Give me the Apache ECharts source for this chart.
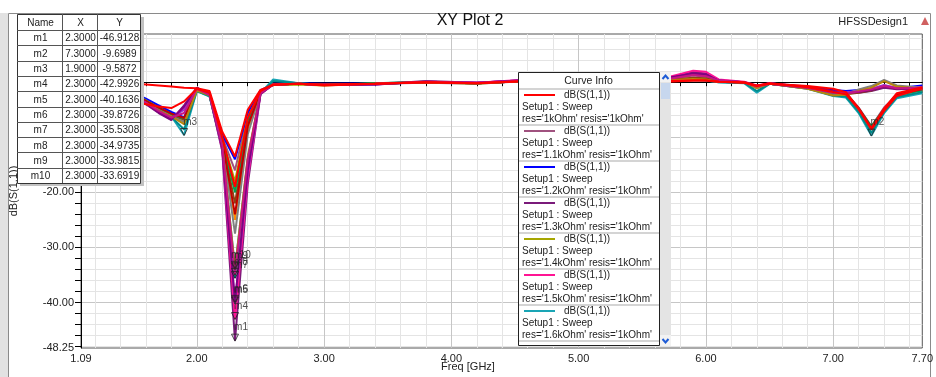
<!DOCTYPE html>
<html>
<head>
<meta charset="utf-8">
<title>XY Plot 2</title>
<script src="https://cdn.jsdelivr.net/npm/echarts/dist/echarts.min.js"></script>
<style>
  html, body { margin: 0; padding: 0; background: #fff; }
  #chart { width: 936px; height: 377px; }
</style>
</head>
<body>
<div id="chart"></div>
<script>
// frequency points (GHz)
var freq = [1.09, 1.3, 1.5, 1.6, 1.7, 1.8, 1.9, 2.0, 2.1, 2.2, 2.3, 2.4, 2.5, 2.6, 2.8, 3.0, 3.4, 3.8, 4.2, 4.6,
  5.0, 5.4, 5.7, 5.9, 6.0, 6.1, 6.3, 6.4, 6.5, 6.8, 7.0, 7.1, 7.2, 7.3, 7.4, 7.5, 7.7];

// sweep names (res), curve colours
var resNames = ['1kOhm', '1.1kOhm', '1.2kOhm', '1.3kOhm', '1.4kOhm', '1.5kOhm', '1.6kOhm', '1.7kOhm', '1.8kOhm',
  '1.9kOhm', '2kOhm', '2.1kOhm', '2.2kOhm', '2.3kOhm', '2.4kOhm', '2.5kOhm', '2.6kOhm', '2.7kOhm'];
var curveColors = ['#ff0000', '#a0527f', '#0000ff', '#7a1a7a', '#a6a600', '#ff1493', '#1aa5b5', '#ff8c00', '#8b4513',
  '#00a050', '#808080', '#c00000', '#9932cc', '#008b8b', '#b8860b', '#800080', '#c71585', '#ff0000'];

// dB(S(1,1)) per curve
var s11_1k   = [-0.3, -0.2, -0.2, -0.4, -0.6, -0.8, -1.0, -1.1, -1.6, -9.0, -13.5, -5.0, -1.4, -0.5, -0.3, -0.4, -0.3, 0.0, -0.2, 0.2, 0.1, 0.2, 0.1, 0.3, 0.3, 0.1, -0.1, -0.6, -0.3, -0.7, -1.2, -1.8, -4.8, -8.4, -4.8, -2.0, -0.9];
var s11_1k1  = [-0.8, -1.2, -2.2, -3.2, -4.4, -5.6, -6.6, -1.4, -2.2, -10.0, -16.0, -6.0, -1.6, -0.4, -0.3, -0.5, -0.3, -0.1, -0.3, 0.2, 0.3, 0.2, 0.6, 1.2, 1.0, 0.2, 0.0, -0.9, -0.2, -0.8, -1.6, -2.0, -4.6, -8.0, -4.6, -2.3, -1.2];
var s11_1k2  = [-0.6, -1.0, -1.9, -3.0, -4.2, -5.4, -6.4, -1.2, -1.9, -9.5, -14.0, -5.5, -1.5, -0.3, -0.2, -0.3, -0.2, 0.0, -0.2, 0.2, 0.3, 0.3, 0.4, 0.6, 0.5, 0.1, -0.1, -0.8, -0.2, -0.9, -1.4, -1.6, -1.4, -1.2, -0.9, -1.1, -0.6];
var s11_1k3  = [-1.5, -2.0, -2.6, -4.0, -5.6, -6.9, -4.2, -1.0, -2.4, -12.5, -46.9128, -18.5, -2.2, -0.4, -0.3, -0.5, -0.4, 0.2, -0.1, 0.4, 0.3, 0.2, 0.8, 1.8, 1.6, 0.4, 0.0, -0.7, -0.3, -1.0, -1.8, -2.0, -1.9, -1.6, -1.0, -1.3, -1.2];
var s11_1k4  = [-0.7, -1.1, -2.0, -3.3, -4.6, -5.8, -6.9, -1.3, -2.0, -10.3, -18.0, -6.5, -1.7, -0.5, -0.4, -0.6, -0.2, 0.0, -0.3, 0.3, 0.3, 0.2, 0.4, 0.5, 0.4, 0.1, 0.0, -1.0, -0.3, -1.1, -2.2, -2.4, -4.9, -8.2, -5.0, -2.6, -1.3];
var s11_1k5  = [-1.3, -1.8, -2.4, -3.8, -5.4, -6.6, -4.6, -1.1, -2.3, -12.2, -42.9926, -17.5, -2.1, -0.4, -0.3, -0.4, -0.3, 0.1, -0.1, 0.5, 0.4, 0.3, 0.9, 2.1, 1.9, 0.5, 0.1, -0.6, -0.2, -0.9, -1.7, -1.9, -1.7, -1.3, -0.6, -1.0, -0.9];
var s11_1k6  = [-1.0, -1.5, -2.6, -3.9, -5.0, -6.2, -9.5872, -1.6, -2.6, -11.8, -33.6919, -14.0, -2.0, 0.5, -0.2, -0.5, -0.3, 0.0, -0.2, 0.2, 0.2, 0.2, 0.3, 0.4, 0.3, 0.0, -0.2, -1.9, -0.3, -1.2, -2.5, -2.8, -5.6, -9.6989, -5.6, -2.9, -2.0];
var s11_1k7  = [-0.9, -1.3, -2.3, -3.5, -4.7, -5.9, -7.0, -1.5, -2.3, -10.8, -25.0, -8.5, -1.8, -0.4, -0.3, -0.5, -0.3, 0.0, -0.2, 0.2, 0.3, 0.2, 0.4, 0.6, 0.5, 0.1, 0.0, -1.1, -0.3, -1.0, -2.0, -2.3, -5.0, -8.5, -5.1, -2.4, -1.4];
var s11_1k8  = [-0.9, -1.4, -2.4, -3.6, -4.9, -6.0, -6.8, -1.4, -2.2, -10.6, -22.0, -7.5, -1.7, -0.4, -0.3, -0.5, -0.3, 0.0, -0.2, 0.2, 0.3, 0.2, 0.5, 0.8, 0.7, 0.2, 0.0, -0.9, -0.3, -1.1, -2.1, -2.2, -1.9, -1.5, -0.7, -1.2, -1.1];
var s11_1k9  = [-0.8, -1.2, -2.1, -3.4, -4.7, -5.8, -6.6, -1.3, -2.1, -10.4, -20.0, -7.0, -1.7, -0.5, -0.3, -0.5, -0.2, 0.1, -0.2, 0.3, 0.3, 0.2, 0.4, 0.6, 0.5, 0.1, 0.0, -0.9, -0.3, -1.0, -1.9, -2.2, -4.8, -8.0, -4.9, -2.3, -1.5];
var s11_2k   = [-1.0, -1.5, -2.5, -3.7, -5.0, -6.2, -7.2, -1.5, -2.4, -11.0, -27.5, -9.5, -1.9, -0.4, -0.3, -0.5, -0.3, 0.0, -0.2, 0.2, 0.3, 0.2, 0.3, 0.5, 0.4, 0.1, 0.0, -1.0, -0.3, -1.2, -2.3, -2.1, -1.3, -0.7, 0.4, -0.6, -1.0];
var s11_2k1  = [-0.9, -1.3, -2.2, -3.4, -4.6, -5.7, -6.5, -1.3, -2.1, -10.7, -24.0, -8.0, -1.8, -0.4, -0.3, -0.5, -0.3, 0.0, -0.2, 0.2, 0.2, 0.2, 0.4, 0.6, 0.5, 0.1, -0.1, -0.8, -0.3, -0.9, -1.7, -2.0, -4.7, -8.3, -4.9, -2.2, -1.3];
var s11_2k2  = [-1.2, -1.7, -2.4, -3.8, -5.3, -6.5, -5.0, -1.1, -2.3, -12.0, -40.1636, -16.5, -2.1, -0.4, -0.3, -0.5, -0.4, 0.1, -0.1, 0.4, 0.4, 0.3, 0.7, 1.5, 1.3, 0.3, 0.0, -0.7, -0.3, -1.0, -1.8, -1.9, -1.6, -1.2, -0.5, -1.1, -1.3];
var s11_2k3  = [-1.1, -1.6, -2.6, -3.9, -5.1, -6.3, -8.6, -1.6, -2.5, -11.6, -35.5308, -14.5, -2.0, 0.2, -0.2, -0.5, -0.3, 0.0, -0.2, 0.2, 0.2, 0.2, 0.3, 0.4, 0.3, 0.0, -0.1, -1.6, -0.3, -1.1, -2.4, -2.6, -5.4, -9.2, -5.4, -2.7, -1.8];
var s11_2k4  = [-1.0, -1.5, -2.5, -3.8, -5.1, -6.2, -7.6, -1.5, -2.4, -11.4, -33.9815, -13.5, -2.0, -0.4, -0.3, -0.5, -0.3, 0.0, -0.2, 0.2, 0.3, 0.2, 0.4, 0.6, 0.5, 0.1, 0.0, -1.0, -0.3, -1.2, -2.4, -2.3, -1.6, -1.0, 0.2, -0.8, -1.2];
var s11_2k5  = [-1.3, -1.8, -2.5, -3.9, -5.5, -6.8, -4.4, -1.0, -2.3, -12.0, -39.8726, -16.0, -2.1, -0.4, -0.3, -0.5, -0.4, 0.1, -0.1, 0.4, 0.3, 0.3, 0.8, 1.6, 1.4, 0.3, 0.0, -0.7, -0.3, -1.0, -1.8, -2.0, -1.8, -1.4, -0.8, -1.2, -1.1];
var s11_2k6  = [-1.1, -1.6, -2.4, -3.7, -5.2, -6.4, -5.6, -1.2, -2.3, -11.6, -34.9735, -14.0, -2.0, -0.4, -0.3, -0.5, -0.3, 0.1, -0.1, 0.3, 0.3, 0.3, 0.6, 1.3, 1.1, 0.3, 0.0, -0.8, -0.3, -1.0, -1.9, -2.0, -1.7, -1.3, -0.7, -1.1, -1.0];
var s11_2k7  = [-2.5, -3.0, -3.6, -4.0, -4.4, -4.7, -3.5, -1.2, -1.9, -10.0, -19.0, -6.5, -1.6, -0.4, -0.3, -0.6, -0.3, 0.0, -0.2, 0.2, 0.2, 0.2, 0.2, 0.3, 0.3, 0.1, 0.0, -0.7, -0.2, -0.9, -1.8, -2.2, -4.9, -8.6, -5.2, -2.5, -1.1];
var curves = [s11_1k, s11_1k1, s11_1k2, s11_1k3, s11_1k4, s11_1k5, s11_1k6, s11_1k7, s11_1k8,
  s11_1k9, s11_2k, s11_2k1, s11_2k2, s11_2k3, s11_2k4, s11_2k5, s11_2k6, s11_2k7];

// markers
var markerNames = ['m1', 'm2', 'm3', 'm4', 'm5', 'm6', 'm7', 'm8', 'm9', 'm10'];
var markerX = [2.3, 7.3, 1.9, 2.3, 2.3, 2.3, 2.3, 2.3, 2.3, 2.3];
var markerY = [-46.9128, -9.6989, -9.5872, -42.9926, -40.1636, -39.8726, -35.5308, -34.9735, -33.9815, -33.6919];

// tick labels
var xLabels = [1.09, 2, 3, 4, 5, 6, 7, 7.7];
var yLabels = [-48.25, -40, -30, -20, -10, 0];

var FONT = 'Liberation Sans, Arial, sans-serif';

// minor ticks / grid every 0.2 GHz and 2 dB
var xTicks = [];
for (var k = 6; k <= 38; k++) xTicks.push(Math.round(k * 2) / 10);
var yTicks = [];
for (var v = -48; v <= 8; v += 2) yTicks.push(v);
var gridColors = ['#e4e4e4', '#e4e4e4', '#e4e4e4', '#e4e4e4', '#c6c6c6'];

var series = curves.map(function (vals, i) {
  return {
    name: resNames[i],
    type: 'line',
    symbol: 'none',
    z: curveColors[i] === '#ff0000' ? 4 : 3,
    lineStyle: { width: 2, color: curveColors[i] },
    data: freq.map(function (f, j) { return [f, vals[j]]; })
  };
});

series.push({
  type: 'scatter',
  z: 6,
  symbol: 'triangle',
  symbolRotate: 180,
  symbolSize: 7,
  symbolOffset: [0, -3],
  itemStyle: { color: 'rgba(255,255,255,0)', borderColor: '#222', borderWidth: 1 },
  label: {
    show: true, position: 'inside', offset: [6, -10],
    formatter: function (p) { return p.name; },
    color: '#222', fontSize: 10, fontFamily: FONT
  },
  data: markerNames.map(function (n, i) { return { name: n, value: [markerX[i], markerY[i]] }; })
});

// ---- graphic: frame, marker table, curve info box ----
var g = [];
g.push({ type: 'rect', z: -10, shape: { x: 0, y: 13, width: 8, height: 364 }, style: { fill: '#e2e2e2' } });
g.push({ type: 'rect', z: -10, shape: { x: 8.5, y: 13.5, width: 922, height: 370 }, style: { fill: 'none', stroke: '#8a8a8a', lineWidth: 1 } });
g.push({ type: 'text', z: 50, style: { x: 470, y: 21, text: 'XY Plot 2', font: '16px ' + FONT, fill: '#111', textAlign: 'center', textVerticalAlign: 'middle' } });
g.push({ type: 'text', z: 50, style: { x: 908, y: 22, text: 'HFSSDesign1', font: '11px ' + FONT, fill: '#222', textAlign: 'right', textVerticalAlign: 'middle' } });
g.push({ type: 'polygon', z: 50, shape: { points: [[921, 25], [925, 17], [929, 25]] }, style: { fill: '#d06060' } });
g.push({ type: 'text', z: 50, style: { x: 468, y: 367, text: 'Freq [GHz]', font: '11px ' + FONT, fill: '#222', textAlign: 'center', textVerticalAlign: 'middle' } });

// marker table
var tx = 17, ty = 14, colW = [45, 35, 43], headH = 16, rowH = 15.3;
var tw = colW[0] + colW[1] + colW[2], th = headH + rowH * markerNames.length;
g.push({ type: 'rect', z: 90, shape: { x: tx + 3, y: ty + 3, width: tw + 1, height: th }, style: { fill: '#c2c2c2' } });
g.push({ type: 'rect', z: 91, shape: { x: tx + 0.5, y: ty + 0.5, width: tw, height: th }, style: { fill: '#fff', stroke: '#333', lineWidth: 1 } });
var colX = [tx, tx + colW[0], tx + colW[0] + colW[1], tx + tw];
[colX[1], colX[2]].forEach(function (cx) {
  g.push({ type: 'line', z: 92, shape: { x1: cx + 0.5, y1: ty, x2: cx + 0.5, y2: ty + th }, style: { stroke: '#555', lineWidth: 1 } });
});
for (var r = 0; r < markerNames.length; r++) {
  var ly = Math.round(ty + headH + rowH * r) + 0.5;
  g.push({ type: 'line', z: 92, shape: { x1: tx, y1: ly, x2: tx + tw, y2: ly }, style: { stroke: '#555', lineWidth: 1 } });
}
function cellText(txt, c, cy) {
  g.push({ type: 'text', z: 93, style: { x: (colX[c] + colX[c + 1]) / 2 + 1, y: cy, text: txt, font: '10px ' + FONT, fill: '#222', textAlign: 'center', textVerticalAlign: 'middle' } });
}
cellText('Name', 0, ty + headH / 2 + 1); cellText('X', 1, ty + headH / 2 + 1); cellText('Y', 2, ty + headH / 2 + 1);
markerNames.forEach(function (n, i) {
  var cy = ty + headH + rowH * i + rowH / 2 + 1;
  cellText(n, 0, cy);
  cellText(markerX[i].toFixed(4), 1, cy);
  cellText(markerY[i].toFixed(4), 2, cy);
});

// curve info box
var bx = 518, by = 72, bw = 141, bh = 273, entryH = 36;
g.push({ type: 'rect', z: 90, shape: { x: bx + 0.5, y: by + 0.5, width: bw, height: bh }, style: { fill: '#fff', stroke: '#222', lineWidth: 1 } });
g.push({ type: 'text', z: 93, style: { x: bx + bw / 2, y: by + 9, text: 'Curve Info', font: '10.5px ' + FONT, fill: '#222', textAlign: 'center', textVerticalAlign: 'middle' } });
g.push({ type: 'rect', z: 92, shape: { x: bx + 1, y: by + 16, width: bw - 1, height: 2 }, style: { fill: '#d4d4d4' } });
resNames.forEach(function (n, i) {
  var y0 = by + 18 + entryH * i;
  if (y0 + entryH > by + bh) return;
  g.push({ type: 'line', z: 93, shape: { x1: bx + 6, y1: y0 + 5, x2: bx + 37, y2: y0 + 5 }, style: { stroke: curveColors[i], lineWidth: 2 } });
  g.push({ type: 'text', z: 93, style: { x: bx + 46, y: y0 + 5, text: 'dB(S(1,1))', font: '10px ' + FONT, fill: '#222', textVerticalAlign: 'middle' } });
  g.push({ type: 'text', z: 93, style: { x: bx + 4, y: y0 + 17, text: 'Setup1 : Sweep', font: '10px ' + FONT, fill: '#222', textVerticalAlign: 'middle' } });
  g.push({ type: 'text', z: 93, style: { x: bx + 4, y: y0 + 29, text: "res='" + n + "' resis='1kOhm'", font: '10px ' + FONT, fill: '#222', textVerticalAlign: 'middle' } });
  g.push({ type: 'rect', z: 92, shape: { x: bx + 1, y: y0 + 34, width: bw - 1, height: 2 }, style: { fill: '#d4d4d4' } });
});
// scrollbar
var sx = bx + bw + 1;
g.push({ type: 'rect', z: 90, shape: { x: sx, y: by, width: 11, height: bh + 1 }, style: { fill: '#e4e4e4' } });
g.push({ type: 'rect', z: 91, shape: { x: sx, y: by, width: 11, height: 10 }, style: { fill: '#f2f2f2' } });
g.push({ type: 'rect', z: 91, shape: { x: sx + 1, y: by + 11, width: 9, height: 16 }, style: { fill: '#c7d7ee' } });
g.push({ type: 'rect', z: 91, shape: { x: sx, y: by + bh - 10, width: 11, height: 11 }, style: { fill: '#f2f2f2' } });
g.push({ type: 'polyline', z: 92, shape: { points: [[sx + 2.5, by + 7], [sx + 5.5, by + 3.5], [sx + 8.5, by + 7]] }, style: { stroke: '#1d5bd6', lineWidth: 2 } });
g.push({ type: 'polyline', z: 92, shape: { points: [[sx + 2.5, by + bh - 6], [sx + 5.5, by + bh - 2.5], [sx + 8.5, by + bh - 6]] }, style: { stroke: '#1d5bd6', lineWidth: 2 } });

var myChart = echarts.init(document.getElementById('chart'));
var option = {
  animation: false,
  backgroundColor: '#fff',
  grid: { left: 79, right: 10, top: 34, bottom: 29, show: true, borderColor: '#555', borderWidth: 1, backgroundColor: '#fff' },
  xAxis: {
    type: 'value', min: 1.09, max: 7.7,
    axisLine: { show: true, lineStyle: { color: '#000', width: 1 } },
    axisTick: { show: true, customValues: xTicks, length: 4, lineStyle: { color: '#000' } },
    axisLabel: {
      customValues: xLabels, margin: 5, fontSize: 11, color: '#222', fontFamily: FONT,
      formatter: function (v) { return v.toFixed(2); }
    },
    splitLine: { show: true, lineStyle: { color: gridColors, width: 1 } }
  },
  yAxis: {
    type: 'value', min: -48.25, max: 8.75,
    name: 'dB(S(1,1))', nameLocation: 'middle', nameGap: 62,
    nameTextStyle: { fontSize: 11, color: '#222', fontFamily: FONT },
    axisLine: { show: true, lineStyle: { color: '#000', width: 1 } },
    axisTick: { show: true, customValues: yTicks, length: 6, lineStyle: { color: '#000' } },
    axisLabel: {
      customValues: yLabels, margin: 7, fontSize: 11, color: '#222', fontFamily: FONT,
      formatter: function (v) { return v.toFixed(2); }
    },
    splitLine: { show: true, lineStyle: { color: gridColors, width: 1 } }
  },
  graphic: { elements: g },
  series: series
};
myChart.setOption(option);
</script>
</body>
</html>
